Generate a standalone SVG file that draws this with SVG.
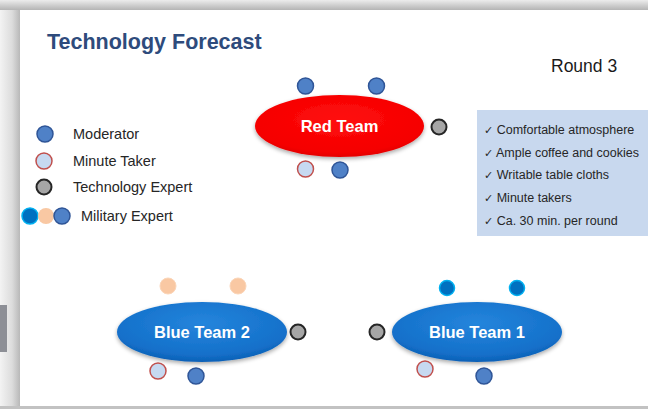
<svg xmlns="http://www.w3.org/2000/svg" width="648" height="409" viewBox="0 0 648 409">
<defs>
<linearGradient id="leftBand" x1="0" y1="0" x2="1" y2="0">
<stop offset="0" stop-color="#f3f3f3"/><stop offset="0.6" stop-color="#dcdcdc"/><stop offset="1" stop-color="#b8b8b8"/>
</linearGradient>
<linearGradient id="topBand" x1="0" y1="0" x2="0" y2="1">
<stop offset="0" stop-color="#ececec"/><stop offset="1" stop-color="#b4b4b4"/>
</linearGradient>
<radialGradient id="redG" cx="0.5" cy="0.4" r="0.65">
<stop offset="0" stop-color="#ff0d0d"/><stop offset="0.8" stop-color="#f50000"/><stop offset="1" stop-color="#d90000"/>
</radialGradient>
<radialGradient id="blueG" cx="0.5" cy="0.35" r="0.7">
<stop offset="0" stop-color="#2485dc"/><stop offset="0.75" stop-color="#1470ca"/><stop offset="1" stop-color="#0a5aae"/>
</radialGradient>
<filter id="shadow" x="-10%" y="-20%" width="120%" height="150%">
<feGaussianBlur in="SourceAlpha" stdDeviation="2"/>
<feOffset dy="2"/>
<feComponentTransfer><feFuncA type="linear" slope="0.35"/></feComponentTransfer>
<feMerge><feMergeNode/><feMergeNode in="SourceGraphic"/></feMerge>
</filter>
</defs>
<style>
.txt{font-family:"Liberation Sans",Arial,sans-serif;}
.title{font-size:21.5px;font-weight:bold;fill:#2e4b7c;}
.round{font-size:17.5px;fill:#1a1a1a;}
.leg{font-size:14.5px;fill:#262626;}
.list{font-size:12.5px;fill:#262626;}
.chk{font-family:"DejaVu Sans",sans-serif;font-size:11px;}
.team{font-size:16.5px;font-weight:bold;fill:#ffffff;text-anchor:middle;}
.mod{fill:#4f81c7;stroke:#2f5597;stroke-width:1.5;}
.min{fill:#c6d9f1;stroke:#c0504d;stroke-width:1.5;}
.tech{fill:#a6a6a6;stroke:#262626;stroke-width:2;}
.peach{fill:#f9c8a3;stroke:#fbd5b8;stroke-width:1;}
.mil{fill:#0070c0;stroke:#00b0f0;stroke-width:1.5;}
</style>
<rect x="0" y="0" width="648" height="409" fill="#ffffff"/>
<rect x="0" y="0" width="20" height="409" fill="url(#leftBand)"/>
<rect x="0" y="0" width="648" height="10" fill="url(#topBand)"/>
<rect x="0" y="406" width="648" height="3" fill="#c2c2c2"/>
<rect x="0" y="305" width="7" height="47" fill="#8d8f96"/>

<text class="txt title" x="47" y="49">Technology Forecast</text>
<text class="txt round" x="551" y="72">Round 3</text>

<g id="legend">
<circle class="mod" cx="45" cy="134" r="8"/>
<text class="txt leg" x="73" y="139">Moderator</text>
<circle class="min" cx="44" cy="161" r="8"/>
<text class="txt leg" x="73" y="166">Minute Taker</text>
<circle class="tech" cx="44" cy="187" r="7.5"/>
<text class="txt leg" x="73" y="192">Technology Expert</text>
<circle class="mil" cx="30" cy="216" r="8"/>
<circle cx="46" cy="216" r="8" fill="#f9c8a3"/>
<circle class="mod" cx="62" cy="216" r="8"/>
<text class="txt leg" x="81" y="221">Military Expert</text>
</g>

<g id="checklist">
<rect x="477" y="110" width="171" height="126" fill="#c8d8ee"/>
<text class="txt list" x="484" y="134"><tspan class="chk">✓</tspan> Comfortable atmosphere</text>
<text class="txt list" x="484" y="157"><tspan class="chk">✓</tspan> Ample coffee and cookies</text>
<text class="txt list" x="484" y="179"><tspan class="chk">✓</tspan> Writable table cloths</text>
<text class="txt list" x="484" y="202"><tspan class="chk">✓</tspan> Minute takers</text>
<text class="txt list" x="484" y="225"><tspan class="chk">✓</tspan> Ca. 30 min. per round</text>
</g>

<g id="red-team">
<ellipse cx="339.5" cy="126" rx="84.5" ry="31" fill="url(#redG)" filter="url(#shadow)"/>
<text class="txt team" x="339.5" y="132">Red Team</text>
<circle class="mod" cx="305.5" cy="86" r="8"/>
<circle class="mod" cx="376.5" cy="86" r="8"/>
<circle class="tech" cx="439" cy="127" r="7.5"/>
<circle class="min" cx="305.5" cy="169" r="8"/>
<circle class="mod" cx="340" cy="170" r="8"/>
</g>

<g id="blue-team-2">
<ellipse cx="202" cy="332" rx="85" ry="30" fill="url(#blueG)" filter="url(#shadow)"/>
<text class="txt team" x="202" y="338">Blue Team 2</text>
<circle class="peach" cx="168" cy="286" r="8"/>
<circle class="peach" cx="238" cy="286" r="8"/>
<circle class="tech" cx="298" cy="332" r="7.5"/>
<circle class="min" cx="158" cy="371" r="8"/>
<circle class="mod" cx="196" cy="376" r="8"/>
</g>

<g id="blue-team-1">
<ellipse cx="477" cy="332" rx="85" ry="30" fill="url(#blueG)" filter="url(#shadow)"/>
<text class="txt team" x="477" y="338">Blue Team 1</text>
<circle class="mil" cx="447" cy="288" r="7.5"/>
<circle class="mil" cx="517" cy="288" r="7.5"/>
<circle class="tech" cx="377" cy="332" r="7.5"/>
<circle class="min" cx="425" cy="369" r="8"/>
<circle class="mod" cx="484" cy="376" r="8"/>
</g>

<g id="connectors"/>
</svg>
